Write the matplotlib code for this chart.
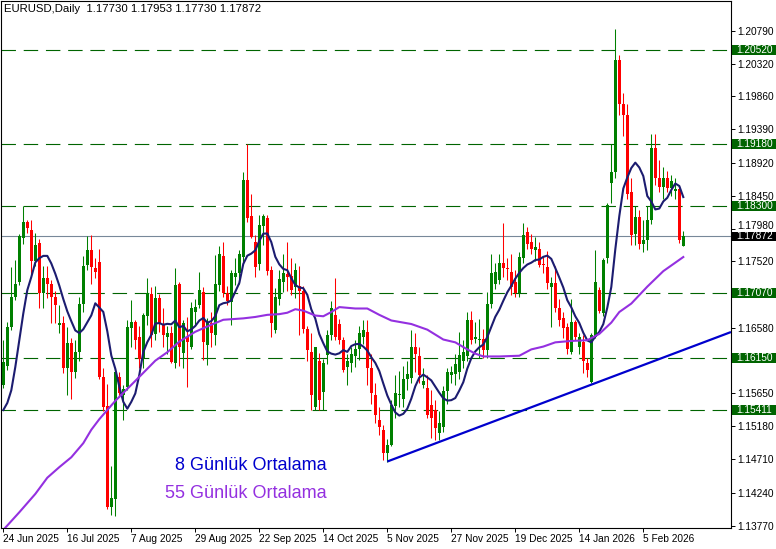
import matplotlib
matplotlib.use('Agg')
import matplotlib.pyplot as plt
import matplotlib.transforms as mtransforms
from matplotlib.patches import Rectangle
import numpy as np
import pandas as pd

# daily OHLC, EURUSD, 24 Jun 2025 .. Feb 2026
opens = [
    1.1577, 1.1604, 1.1659, 1.1701, 1.1722, 1.1785, 1.1807, 1.1797, 1.1753, 1.1778,
    1.1707, 1.1728, 1.1720, 1.1702, 1.1662, 1.1665, 1.1601, 1.1636, 1.1595, 1.1623,
    1.1691, 1.1747, 1.1768, 1.1742, 1.1751, 1.1588, 1.1547, 1.1404, 1.1415, 1.1588,
    1.1563, 1.1574, 1.1657, 1.1666, 1.1645, 1.1615, 1.1674, 1.1706, 1.1649, 1.1700,
    1.1663, 1.1645, 1.1650, 1.1607, 1.1720, 1.1622, 1.1645, 1.1631, 1.1680, 1.1690,
    1.1709, 1.1633, 1.1665, 1.1647, 1.1718, 1.1759, 1.1707, 1.1694, 1.1730, 1.1735,
    1.1758, 1.1867, 1.1816, 1.1780, 1.1748, 1.1802, 1.1814, 1.1739, 1.1655, 1.1699,
    1.1722, 1.1734, 1.1731, 1.1716, 1.1717, 1.1710, 1.1656, 1.1624, 1.1546, 1.1611,
    1.1567, 1.1619, 1.1647, 1.1676, 1.1663, 1.1641, 1.1602, 1.1608, 1.1617, 1.1628,
    1.1645, 1.1651, 1.1600, 1.1562, 1.1527, 1.1513, 1.1480, 1.1492, 1.1547, 1.1562,
    1.1557, 1.1585, 1.1586, 1.1631, 1.1617, 1.1576, 1.1572, 1.1548, 1.1541, 1.1508,
    1.1517, 1.1568, 1.1591, 1.1592, 1.1595, 1.1610, 1.1618, 1.1668, 1.1642, 1.1640,
    1.1642, 1.1626, 1.1692, 1.1720, 1.1725, 1.1749, 1.1743, 1.1737, 1.1723, 1.1707,
    1.1757, 1.1794, 1.1780, 1.1768, 1.1770, 1.1748, 1.1744, 1.1716, 1.1721, 1.1685,
    1.1671, 1.1659, 1.1624, 1.1666, 1.1631, 1.1638, 1.1607, 1.1581, 1.1645, 1.1711,
    1.1678, 1.1756, 1.1863, 1.1879, 1.2037, 1.1975, 1.1960, 1.1850, 1.1790, 1.1815,
    1.1777, 1.1782, 1.1810, 1.1913, 1.1870, 1.1858, 1.1870, 1.1856, 1.1851, 1.1855,
    1.17730,
]
highs = [
    1.1641, 1.1666, 1.1744, 1.1754, 1.1790, 1.1830, 1.1811, 1.1811, 1.1792, 1.1784,
    1.1745, 1.1745, 1.1726, 1.1710, 1.1690, 1.1674, 1.1659, 1.1643, 1.1640, 1.1702,
    1.1760, 1.1788, 1.1789, 1.1756, 1.1770, 1.1600, 1.1578, 1.1461, 1.1599, 1.1595,
    1.1577, 1.1669, 1.1697, 1.1669, 1.1660, 1.1678, 1.1728, 1.1716, 1.1717, 1.1706,
    1.1686, 1.1660, 1.1660, 1.1742, 1.1722, 1.1668, 1.1673, 1.1694, 1.1699, 1.1737,
    1.1716, 1.1672, 1.1680, 1.1761, 1.1774, 1.1780, 1.1717, 1.1739, 1.1756, 1.1768,
    1.1879, 1.1918, 1.1848, 1.1789, 1.1818, 1.1819, 1.1818, 1.1745, 1.1714, 1.1740,
    1.1763, 1.1780, 1.1757, 1.1750, 1.1745, 1.1717, 1.1660, 1.1650, 1.1631, 1.1622,
    1.1614, 1.1655, 1.1695, 1.1728, 1.1670, 1.1645, 1.1620, 1.1630, 1.1640, 1.1660,
    1.1669, 1.1669, 1.1620, 1.1580, 1.1545, 1.1520, 1.1500, 1.1555, 1.1591, 1.1597,
    1.1603, 1.1610, 1.1654, 1.1650, 1.1630, 1.1600, 1.1590, 1.1570, 1.1555, 1.1540,
    1.1575, 1.1600, 1.1604, 1.1621, 1.1652, 1.1640, 1.1680, 1.1682, 1.1666, 1.1670,
    1.1656, 1.1709, 1.1763, 1.1750, 1.1763, 1.1806, 1.1757, 1.1763, 1.1740, 1.1765,
    1.1806, 1.1800, 1.1790, 1.1787, 1.1780, 1.1760, 1.1766, 1.1730, 1.1745, 1.1698,
    1.1680, 1.1665, 1.1699, 1.1669, 1.1650, 1.1648, 1.1615, 1.1650, 1.1768, 1.1716,
    1.1756, 1.1834, 1.1919, 1.2082, 1.2045, 1.1990, 1.1975, 1.1870, 1.1830, 1.1825,
    1.1810, 1.1830, 1.1932, 1.1933, 1.1895, 1.1885, 1.1880, 1.1875, 1.1870, 1.1860,
    1.17953,
]
lows = [
    1.1572, 1.1598, 1.1655, 1.1697, 1.1718, 1.1777, 1.1792, 1.1733, 1.1745, 1.1685,
    1.1685, 1.1700, 1.1664, 1.1664, 1.1650, 1.1593, 1.1562, 1.1556, 1.1586, 1.1610,
    1.1680, 1.1740, 1.1720, 1.1728, 1.1585, 1.1540, 1.1401, 1.1392, 1.1391, 1.1560,
    1.1527, 1.1570, 1.1631, 1.1628, 1.1600, 1.1600, 1.1662, 1.1630, 1.1640, 1.1652,
    1.1630, 1.1620, 1.1608, 1.1600, 1.1603, 1.1600, 1.1574, 1.1627, 1.1661, 1.1685,
    1.1612, 1.1605, 1.1630, 1.1633, 1.1710, 1.1702, 1.1690, 1.1661, 1.1719, 1.1720,
    1.1750, 1.1808, 1.1785, 1.1730, 1.1740, 1.1775, 1.1733, 1.1645, 1.1650, 1.1690,
    1.1708, 1.1710, 1.1704, 1.1700, 1.1648, 1.1650, 1.1611, 1.1541, 1.1541, 1.1541,
    1.1541, 1.1606, 1.1640, 1.1640, 1.1635, 1.1595, 1.1577, 1.1595, 1.1602, 1.1612,
    1.1634, 1.1577, 1.1550, 1.1522, 1.1505, 1.1470, 1.1468, 1.1490, 1.1530, 1.1545,
    1.1545, 1.1570, 1.1580, 1.1595, 1.1580, 1.1572, 1.1530, 1.1502, 1.1498, 1.1498,
    1.1510, 1.1550, 1.1580, 1.1577, 1.1585, 1.1600, 1.1610, 1.1635, 1.1636, 1.1615,
    1.1615, 1.1615, 1.1685, 1.1713, 1.1720, 1.1730, 1.1725, 1.1704, 1.1702, 1.1702,
    1.1750, 1.1770, 1.1763, 1.1752, 1.1744, 1.1735, 1.1712, 1.1659, 1.1680, 1.1660,
    1.1643, 1.1621, 1.1621, 1.1640, 1.1620, 1.1593, 1.1588, 1.1579, 1.1643, 1.1678,
    1.1675, 1.1750, 1.1834, 1.1870, 1.1960, 1.1930, 1.1840, 1.1775, 1.1775, 1.1770,
    1.1765, 1.1768, 1.1805, 1.1860, 1.1850, 1.1840, 1.1850, 1.1845, 1.1840, 1.1778,
    1.17730,
]
closes = [
    1.1609, 1.1659, 1.1702, 1.1720, 1.1788, 1.1807, 1.1799, 1.1753, 1.1775, 1.1707,
    1.1728, 1.1720, 1.1702, 1.1690, 1.1665, 1.1600, 1.1636, 1.1595, 1.1623, 1.1691,
    1.1745, 1.1768, 1.1744, 1.1737, 1.1588, 1.1545, 1.1404, 1.1416, 1.1595, 1.1565,
    1.1571, 1.1659, 1.1666, 1.1640, 1.1614, 1.1676, 1.1707, 1.1648, 1.1700, 1.1663,
    1.1648, 1.1650, 1.1609, 1.1718, 1.1631, 1.1664, 1.1638, 1.1685, 1.1687, 1.1711,
    1.1638, 1.1664, 1.1650, 1.1720, 1.1763, 1.1707, 1.1695, 1.1735, 1.1736, 1.1763,
    1.1867, 1.1813, 1.1787, 1.1744, 1.1803, 1.1816, 1.1738, 1.1665, 1.1701, 1.1727,
    1.1735, 1.1730, 1.1711, 1.1740, 1.1710, 1.1656, 1.1626, 1.1562, 1.1630, 1.1555,
    1.1607, 1.1647, 1.1685, 1.1645, 1.1641, 1.1598, 1.1610, 1.1621, 1.1628, 1.1650,
    1.1655, 1.1600, 1.1565, 1.1534, 1.1517, 1.1480, 1.1492, 1.1548, 1.1565, 1.1564,
    1.1585, 1.1592, 1.1631, 1.1621, 1.1590, 1.1582, 1.1534, 1.1529, 1.1515, 1.1522,
    1.1568, 1.1595, 1.1595, 1.1606, 1.1619, 1.1624, 1.1669, 1.1640, 1.1645, 1.1642,
    1.1626, 1.1692, 1.1735, 1.1737, 1.1749, 1.1742, 1.1741, 1.1716, 1.1707, 1.1758,
    1.1789, 1.1777, 1.1770, 1.1772, 1.1747, 1.1746, 1.1721, 1.1721, 1.1685, 1.1669,
    1.1657, 1.1628, 1.1666, 1.1645, 1.1645, 1.1610, 1.1598, 1.1647, 1.1723, 1.1681,
    1.1754, 1.1832, 1.1879, 1.2037, 1.1975, 1.1960, 1.1848, 1.1789, 1.1815, 1.1777,
    1.1782, 1.1810, 1.1913, 1.1870, 1.1858, 1.1870, 1.1856, 1.1866, 1.1855, 1.1782,
    1.17872,
]

# 8-day MA for the first bars (window reaches before the visible data)
ma8_head = [1.1541, 1.1551, 1.1569, 1.1602, 1.1640, 1.1678, 1.1711]

# 55-day MA
ma55_bars = [0, 4, 8, 11, 14, 17, 20, 22, 24, 26, 28, 31, 34, 38, 41, 44, 48, 52,
             55, 60, 63, 66, 69, 71, 73, 75, 78, 80, 82, 84, 88, 91, 94, 97, 102,
             106, 110, 113, 116, 118, 120, 124, 129, 132, 135, 138, 142, 146, 149,
             152, 154, 157, 161, 165, 168, 170]
ma55_vals = [1.1371, 1.1396, 1.1422, 1.1445, 1.1460, 1.1474, 1.1494, 1.1513,
             1.1528, 1.1541, 1.1554, 1.1571, 1.1588, 1.1611, 1.1623, 1.1638,
             1.1652, 1.1662, 1.1669, 1.1671, 1.1673, 1.1676, 1.1677, 1.1679,
             1.1684, 1.1682, 1.1675, 1.1674, 1.1680, 1.1687, 1.1685, 1.1685,
             1.1676, 1.1668, 1.1663, 1.1655, 1.1641, 1.1637, 1.1627, 1.1621,
             1.1617, 1.1617, 1.1618, 1.1627, 1.1631, 1.1637, 1.1639, 1.1640,
             1.1649, 1.1665, 1.1680, 1.1692, 1.1716, 1.1738, 1.1750, 1.1758]

date_ticks = [0, 16, 32, 48, 64, 80, 96, 112, 128, 144, 160]
date_labels = ['24 Jun 2025', '16 Jul 2025', '7 Aug 2025', '29 Aug 2025',
               '22 Sep 2025', '14 Oct 2025', '5 Nov 2025', '27 Nov 2025',
               '19 Dec 2025', '14 Jan 2026', '5 Feb 2026']

# scale prices; 1.17050 and 1.16110 sit under the level boxes, so no text for them,
# 1.17980 is written by hand a bit higher so the last-price box does not cover it
price_ticks = [1.20790, 1.20320, 1.19860, 1.19390, 1.18920, 1.18450, 1.17980,
               1.17520, 1.17050, 1.16580, 1.16110, 1.15650, 1.15180, 1.14710,
               1.14240, 1.13770]
hidden_ticks = [1.17050, 1.16110, 1.17980]
lifted_tick = 1.17980

levels = [1.20520, 1.19180, 1.18300, 1.17070, 1.16150, 1.15411]
last_price = 1.17872

# support line through the Nov 5 and Jan 19 lows
trend_bars = [96, 147]
trend_prices = [1.1468, 1.1577]

# ---------------------------------------------------------------------------
plt.rcParams['font.family'] = ['Liberation Sans', 'DejaVu Sans']

o = np.array(opens)
h = np.array(highs)
l = np.array(lows)
c = np.array(closes)
x = np.arange(len(c))

ma8 = pd.Series(c).rolling(8).mean().to_numpy()
ma8[:7] = ma8_head

fig = plt.figure(figsize=(7.76, 5.49), dpi=100)
ax = fig.add_axes([1 / 776, 21 / 549, 730 / 776, 527 / 549])
ax.set_xlim(-0.575, 181.925)
ax.set_ylim(1.13737, 1.21211)

# horizontal levels and last price
for p in levels:
    ax.axhline(p, color='#006400', lw=0.8, dashes=(13, 7), zorder=1)
ax.axhline(last_price, color='#778899', lw=0.8, zorder=1)

# candles
up = c >= o
cols = np.where(up, '#008000', '#ff0000')
ax.vlines(x, l, h, colors=cols, lw=0.75, zorder=2)
body_lo = np.minimum(o, c)
body_h = np.maximum(np.abs(c - o), 0.00008)
ax.bar(x, body_h, bottom=body_lo, width=0.72, color=cols, lw=0, zorder=2)

# moving averages
ax.plot(x, ma8, color='#1c1c70', lw=1.5, zorder=3)
ax.plot(ma55_bars, ma55_vals, color='#9430e0', lw=1.5, zorder=3)

# trend line, extended to the right edge
slope = (trend_prices[1] - trend_prices[0]) / (trend_bars[1] - trend_bars[0])
x_end = ax.get_xlim()[1]
ax.plot([trend_bars[0], x_end],
        [trend_prices[0], trend_prices[0] + slope * (x_end - trend_bars[0])],
        color='#0000cd', lw=1.6, zorder=3, solid_capstyle='butt')

# axes look
for s in ax.spines.values():
    s.set_color('black')
    s.set_linewidth(0.8)
ax.yaxis.tick_right()
ax.set_yticks(price_ticks)
ax.set_yticklabels(['' if v in hidden_ticks else f'{v:.5f}' for v in price_ticks])
ax.tick_params(axis='y', length=3, width=0.7, pad=1.5, labelsize=7.3)
ax.set_xticks(date_ticks)
ax.set_xticklabels(date_labels, ha='left')
ax.tick_params(axis='x', length=3, width=0.7, pad=1.5, labelsize=7.3)

trans = mtransforms.blended_transform_factory(ax.transAxes, ax.transData)
ax.annotate(f'{lifted_tick:.5f}', xy=(1, lifted_tick), xycoords=trans,
            xytext=(4.5, 2.2), textcoords='offset points', fontsize=7.3,
            va='center', ha='left', annotation_clip=False)

# boxed price labels on the right
box_h = 0.00140
for p in levels + [last_price]:
    fc = 'black' if p == last_price else '#006400'
    ax.add_patch(Rectangle((1.0015, p - box_h / 2), 0.07, box_h, transform=trans,
                           facecolor=fc, edgecolor='none', clip_on=False, zorder=4))
    ax.text(1.0075, p, f'{p:.5f}', transform=trans, color='white', fontsize=7.3,
            va='center', ha='left', zorder=5, clip_on=False)

# header and MA captions
fig.text(4 / 776, 1 - 9 / 549, 'EURUSD,Daily  1.17730 1.17953 1.17730 1.17872',
         fontsize=8.2, va='center', ha='left')
fig.text(175 / 776, 1 - 466 / 549, '8 Günlük Ortalama', fontsize=13,
         color='#0000cd', va='center', ha='left')
fig.text(165 / 776, 1 - 493 / 549, '55 Günlük Ortalama', fontsize=13,
         color='#9430e0', va='center', ha='left')

fig.savefig('out.png', dpi=100)
